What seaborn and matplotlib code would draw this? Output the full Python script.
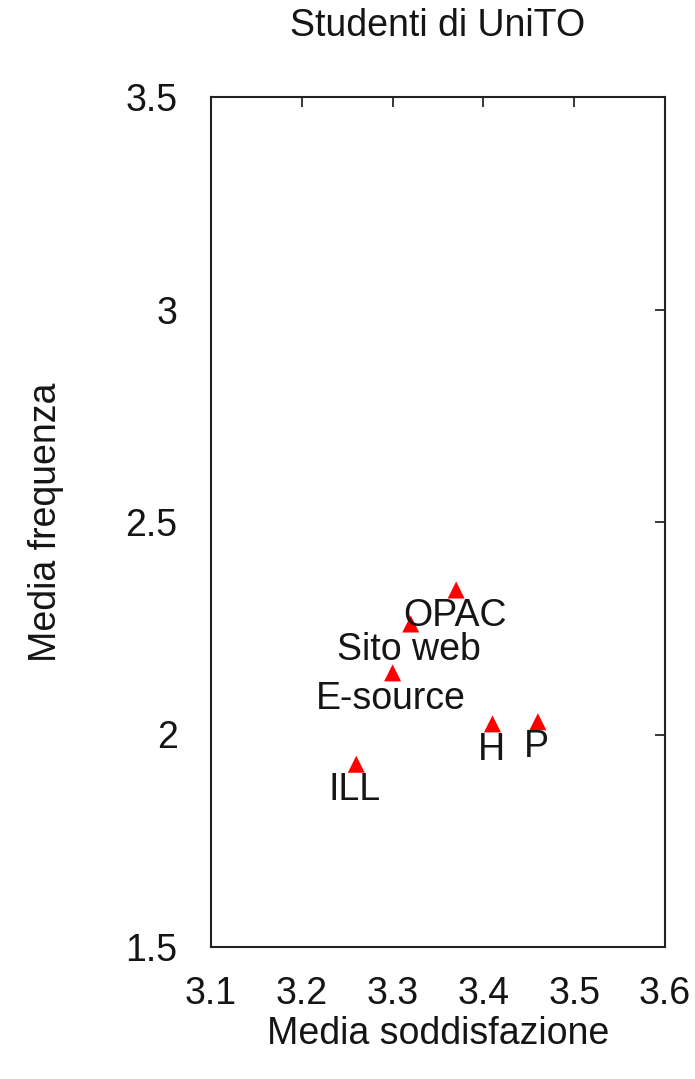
import matplotlib
matplotlib.use("Agg")
import matplotlib.pyplot as plt
import seaborn as sns
import pandas as pd

# Service averages: satisfaction (x) vs frequency of use (y)
services = ["OPAC", "Sito web", "E-source", "ILL", "H", "P"]
soddisfazione = [3.37, 3.32, 3.30, 3.26, 3.41, 3.46]
frequenza = [2.34, 2.26, 2.145, 1.93, 2.025, 2.03]

x_ticks = [3.1, 3.2, 3.3, 3.4, 3.5, 3.6]
x_tick_labels = ["3.1", "3.2", "3.3", "3.4", "3.5", "3.6"]
y_ticks = [1.5, 2.0, 2.5, 3.0, 3.5]
y_tick_labels = ["1.5", "2", "2.5", "3", "3.5"]

df = pd.DataFrame({"servizio": services, "soddisfazione": soddisfazione,
                   "frequenza": frequenza})

sns.set_theme(style="white")
plt.rcParams["font.family"] = ["Liberation Sans", "DejaVu Sans"]

FS = 27
TEXT = "#151515"

fig = plt.figure(figsize=(6.95, 10.79), dpi=100)
ax = fig.add_axes([211 / 695, 1 - 947 / 1079, (665 - 211) / 695, (947 - 97) / 1079])

sns.scatterplot(data=df, x="soddisfazione", y="frequenza", ax=ax, marker="^",
                color="red", s=150, edgecolor="none", zorder=3)

for name, xv, yv in zip(services, soddisfazione, frequenza):
    ax.annotate(name, (xv, yv), xytext=(-1, -18.5), textcoords="offset points",
                ha="center", va="center", fontsize=FS, color=TEXT)

ax.set_xlim(3.1, 3.6)
ax.set_ylim(1.5, 3.5)
ax.set_xticks(x_ticks)
ax.set_xticklabels(x_tick_labels)
ax.set_yticks(y_ticks)
ax.set_yticklabels(y_tick_labels)

ax.tick_params(direction="in", length=7.5, width=1.2, top=True, right=True,
               labelsize=FS, colors=TEXT)
ax.tick_params(axis="x", pad=21)
ax.tick_params(axis="y", pad=24)
for side in ax.spines.values():
    side.set_visible(True)
    side.set_color("#222222")
    side.set_linewidth(1.5)

ax.set_xlabel("Media soddisfazione", fontsize=FS, labelpad=3, color=TEXT)
ax.set_ylabel("Media frequenza", fontsize=FS, labelpad=44, color=TEXT)
ax.set_title("Studenti di UniTO", fontsize=FS, pad=44, color=TEXT)

fig.savefig("out.png", dpi=100, facecolor="white")
